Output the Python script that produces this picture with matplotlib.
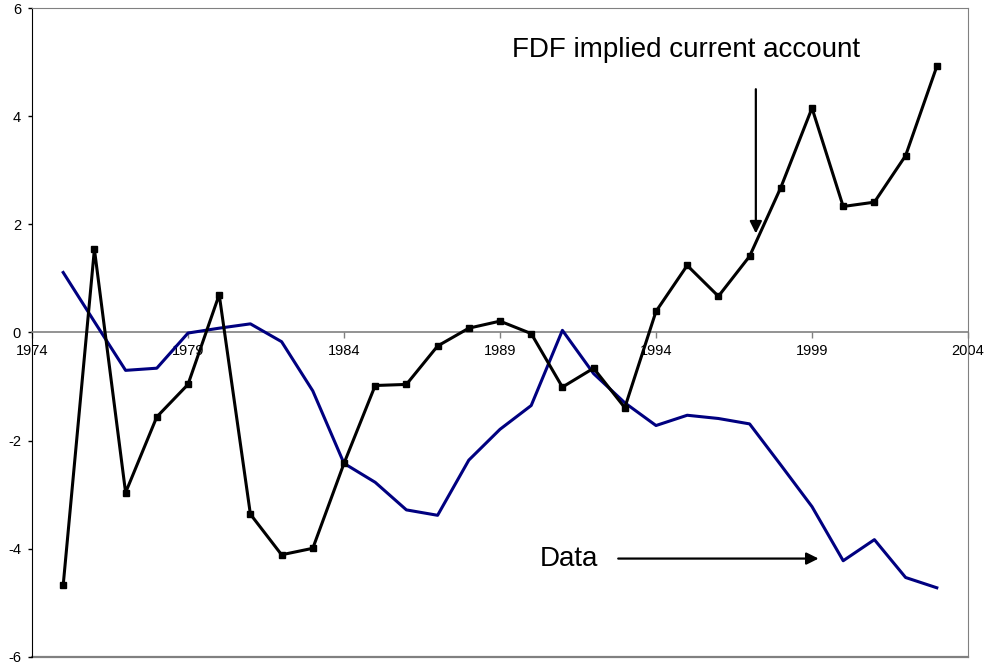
import matplotlib
matplotlib.use("Agg")
from matplotlib import pyplot as plt
import numpy as np

plt.rcParams['font.family'] = ['Liberation Sans', 'DejaVu Sans']
plt.rcParams['axes.unicode_minus'] = False

years = np.arange(1975, 2004)

# FDF implied current account (black, square markers)
fdf = [-4.67, 1.54, -2.96, -1.56, -0.96, 0.70, -3.36, -4.11, -3.99, -2.42,
       -0.98, -0.96, -0.25, 0.08, 0.21, -0.02, -1.01, -0.66, -1.39, 0.39,
       1.24, 0.67, 1.41, 2.68, 4.15, 2.33, 2.41, 3.27, 4.92]

# Data (navy line)
data = [1.11, 0.20, -0.70, -0.66, -0.01, 0.08, 0.16, -0.17, -1.08, -2.42,
        -2.77, -3.28, -3.38, -2.36, -1.79, -1.35, 0.04, -0.76, -1.30, -1.72,
        -1.53, -1.59, -1.69, -2.45, -3.22, -4.22, -3.83, -4.53, -4.72]

xticks = [1974, 1979, 1984, 1989, 1994, 1999, 2004]
yticks = [-6, -4, -2, 0, 2, 4, 6]

fig = plt.figure(figsize=(9.89, 6.69), dpi=100)
ax = fig.add_axes([32/989, 1 - 657/669, 936/989, 649/669])

ax.plot(years, data, color='#000080', lw=2.2, zorder=3)
ax.plot(years, fdf, color='black', lw=2.2, marker='s', ms=4.5, zorder=4)

ax.set_xlim(1974, 2004)
ax.set_ylim(-6, 6)
ax.set_xticks(xticks)
ax.set_yticks(yticks)

# x axis sits on zero, the box around the plot is grey
ax.spines['bottom'].set_position(('data', 0))
ax.spines['bottom'].set_color('#808080')
ax.spines['bottom'].set_linewidth(1.2)
ax.spines['top'].set_color('#808080')
ax.spines['right'].set_color('#808080')
ax.spines['left'].set_color('black')
ax.axhline(-6, color='#808080', lw=1.6, clip_on=False, zorder=1)

ax.tick_params(axis='x', direction='out', length=4, width=1, color='#808080',
               labelsize=10.5, pad=4)
ax.tick_params(axis='y', direction='out', length=3, width=1, labelsize=10.5, pad=5)

ax.text(1994.95, 5.22, 'FDF implied current account', fontsize=20,
        ha='center', va='center')
ax.annotate('', xy=(1997.2, 1.78), xytext=(1997.2, 4.55),
            arrowprops=dict(arrowstyle='-|>', color='black', lw=1.6,
                            mutation_scale=18))

ax.text(1991.2, -4.19, 'Data', fontsize=20, ha='center', va='center')
ax.annotate('', xy=(1999.3, -4.18), xytext=(1992.7, -4.18),
            arrowprops=dict(arrowstyle='-|>', color='black', lw=1.6,
                            mutation_scale=18))

fig.savefig('out.png', dpi=100)
